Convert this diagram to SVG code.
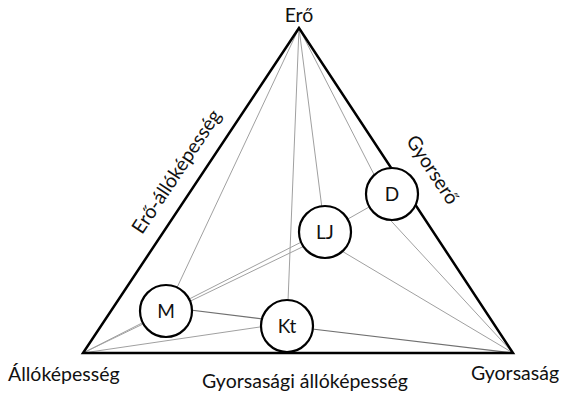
<svg xmlns="http://www.w3.org/2000/svg" width="567" height="396" viewBox="0 0 567 396">
<style>
.lbl{font-family:Lato,"Open Sans","Liberation Sans",sans-serif;font-size:19.5px;fill:#111}
.nl{font-family:Lato,"Open Sans","Liberation Sans",sans-serif;font-size:19px;fill:#111;text-anchor:middle}
.g{stroke:#a0a0a0;stroke-width:1;fill:none}
.d{stroke:#707070;stroke-width:1.2;fill:none}
.edge{stroke:#000;stroke-width:2.5;fill:none;stroke-linejoin:miter}
.node circle{fill:#fff;stroke:#000;stroke-width:2.2}
</style>
<rect width="567" height="396" fill="#fff"/>
<g id="connectors">
<line class="g" x1="299" y1="28" x2="166" y2="311"/>
<line class="g" x1="299" y1="28" x2="287" y2="326"/>
<line class="g" x1="299" y1="28" x2="325" y2="232"/>
<line class="g" x1="299" y1="28" x2="384" y2="194"/>
<line class="g" x1="83" y1="353" x2="325" y2="230"/>
<line class="g" x1="83" y1="353" x2="325" y2="236"/>
<line class="g" x1="83" y1="353" x2="287" y2="323"/>
<line class="d" x1="166" y1="307" x2="287" y2="322"/>
<line class="g" x1="325" y1="232" x2="392" y2="194"/>
<line class="d" x1="287" y1="326" x2="513" y2="353"/>
<line class="g" x1="325" y1="241" x2="513" y2="353"/>
<line class="g" x1="381" y1="210" x2="513" y2="353"/>
</g>
<g id="triangle">
<polygon class="edge" points="299,28 83,353 513,353"/>
</g>
<g id="node-M" class="node"><circle cx="166" cy="311" r="26"/><text class="nl" x="166" y="318">M</text></g>
<g id="node-Kt" class="node"><circle cx="287" cy="326" r="26"/><text class="nl" x="287" y="333">Kt</text></g>
<g id="node-LJ" class="node"><circle cx="325" cy="232" r="26"/><text class="nl" x="325" y="239">LJ</text></g>
<g id="node-D" class="node"><circle cx="392" cy="194" r="26"/><text class="nl" x="392" y="201">D</text></g>
<g id="labels">
<text class="lbl" x="299" y="22" text-anchor="middle">Erő</text>
<text class="lbl" x="8" y="381">Állóképesség</text>
<text class="lbl" x="305" y="388" text-anchor="middle">Gyorsasági állóképesség</text>
<text class="lbl" x="515" y="380" text-anchor="middle">Gyorsaság</text>
<text class="lbl" transform="translate(177,172) rotate(-56.4)" text-anchor="middle" y="6">Erő-állóképesség</text>
<text class="lbl" transform="translate(432,170) rotate(56.6)" text-anchor="middle" y="6">Gyorserő</text>
</g>
</svg>
